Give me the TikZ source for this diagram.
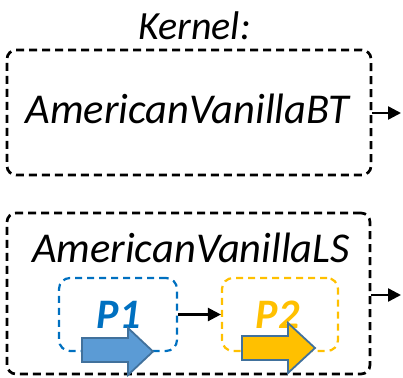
\documentclass[tikz,border=0pt]{standalone}
\usepackage{fontspec}
\setmainfont{Carlito}
\usetikzlibrary{arrows.meta}
\definecolor{pblue}{HTML}{0070C0}
\definecolor{pyellow}{HTML}{FFC000}
\definecolor{afill}{HTML}{5B9BD5}
\definecolor{aedge}{HTML}{41719C}
\tikzset{
  outerbox/.style={draw=black, line width=2.7pt, dash pattern=on 8pt off 5pt,
    rounded corners=9pt, minimum width=#1, inner sep=0pt},
  innerbox/.style={line width=2.2pt, dash pattern=on 7pt off 5pt,
    rounded corners=11pt, inner sep=0pt, minimum width=#1, minimum height=73pt},
  label/.style={font=\fontsize{42.5}{46}\selectfont\itshape, inner sep=0pt, anchor=base},
  plabel/.style={font=\fontsize{42}{44}\selectfont\bfseries\itshape, inner sep=0pt, anchor=base},
  link/.style={line width=2.4pt, -{Triangle[length=13pt,width=13pt]}},
  blockarrow/.style={draw=aedge, line width=1.8pt, line join=miter}
}
\begin{document}
\begin{tikzpicture}[x=1pt,y=-1pt]
  \useasboundingbox (0,0) rectangle (403,377);
  % title
  \node[font=\fontsize{40}{44}\selectfont\itshape, inner sep=0pt, anchor=base] (title) at (194.5,40) {Kernel:};
  % kernel boxes
  \node[outerbox=364pt, minimum height=125pt] (bt) at (189,112.5) {};
  \node[label] (bttext) at (187.5,123) {AmericanVanillaBT};
  \node[outerbox=363pt, minimum height=161pt] (ls) at (188.5,293.5) {};
  \node[label] (lstext) at (191,262) {AmericanVanillaLS};
  % phases
  \node[innerbox=118pt, draw=pblue] (p1) at (118,314.5) {};
  \node[plabel, text=pblue] (p1text) at (118.5,328) {P1};
  \node[innerbox=116pt, draw=pyellow] (p2) at (280,314.5) {};
  \node[plabel, text=pyellow] (p2text) at (277.5,328) {P2};
  % outputs
  \coordinate (btout) at (401,113);
  \coordinate (lsout) at (401,295);
  \draw[link] (bt.east |- btout) -- (btout);
  \draw[link] (ls.east |- lsout) -- (lsout);
  \draw[link] (p1.east) -- (p2.west);
  % block arrows
  \draw[blockarrow, fill=afill] (82,338) -- (128,338) -- (128,328) -- (153,351.5)
    -- (128,375) -- (128,362) -- (82,362) -- cycle;
  \draw[blockarrow, fill=pyellow] (242,336) -- (288,336) -- (288,323) -- (315,348)
    -- (288,373) -- (288,360) -- (242,360) -- cycle;
\end{tikzpicture}
\end{document}
